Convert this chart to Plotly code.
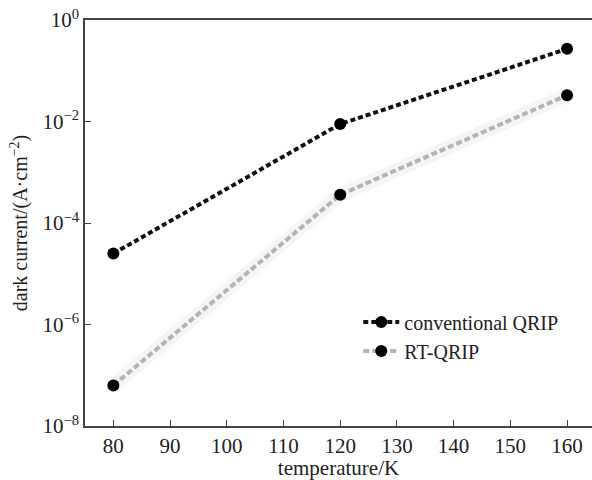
import plotly.graph_objects as go

temperature = [80, 120, 160]
conventional_qrip = [2.5e-5, 8.9e-3, 0.27]
rt_qrip = [6.3e-8, 3.6e-4, 0.033]

x_ticks = [80, 90, 100, 110, 120, 130, 140, 150, 160]
y_tickvals = [1, 1e-2, 1e-4, 1e-6, 1e-8]
y_ticktext = ["10<sup>0</sup>", "10<sup>−2</sup>", "10<sup>−4</sup>", "10<sup>−6</sup>", "10<sup>−8</sup>"]

font_family = "Liberation Serif"

fig = go.Figure()

# soft glow under the grey line
fig.add_trace(go.Scatter(
    x=temperature, y=rt_qrip, mode="lines",
    line=dict(color="rgba(170,170,170,0.12)", width=14),
    showlegend=False, hoverinfo="skip"))

fig.add_trace(go.Scatter(
    x=temperature, y=conventional_qrip, mode="lines+markers",
    name="conventional QRIP",
    line=dict(color="#111111", width=4, dash="5px,3px"),
    marker=dict(color="#000000", size=12)))

fig.add_trace(go.Scatter(
    x=temperature, y=rt_qrip, mode="lines+markers",
    name="RT-QRIP",
    line=dict(color="#b4b4b4", width=4, dash="6px,3px"),
    marker=dict(color="#000000", size=12)))

fig.update_layout(
    width=592, height=480,
    margin=dict(l=85, r=0, t=20, b=54),
    paper_bgcolor="white", plot_bgcolor="white",
    font=dict(family=font_family, size=20, color="#222222"),
    showlegend=True,
    legend=dict(x=0.539, y=0.304, xanchor="left", yanchor="top",
                bgcolor="rgba(0,0,0,0)", font=dict(size=20, family=font_family, color="#222"),
                tracegroupgap=0, itemwidth=36),
)

fig.update_xaxes(
    range=[75, 164.4], tickvals=x_ticks, ticks="inside", ticklen=6,
    tickcolor="#444", showline=True, linecolor="#444", linewidth=1.5,
    mirror=True, showgrid=False, zeroline=False, automargin=False,
    tickfont=dict(size=21, family=font_family),
    title=dict(text="temperature/K", font=dict(size=21, family=font_family), standoff=7))

fig.update_yaxes(
    type="log", range=[-8, 0], tickvals=y_tickvals, ticktext=y_ticktext,
    ticks="inside", ticklen=6, tickcolor="#444",
    showline=True, linecolor="#444", linewidth=1.5, mirror=False,
    showgrid=False, zeroline=False, automargin=False,
    tickfont=dict(size=21, family=font_family),
    title=dict(text="dark current/(A·cm<sup>−2</sup>)", font=dict(size=20, family=font_family), standoff=9))

fig.write_html("out.html",
               config={"displayModeBar": False},
               post_script="document.body.style.margin='0';document.body.style.overflow='hidden';")
